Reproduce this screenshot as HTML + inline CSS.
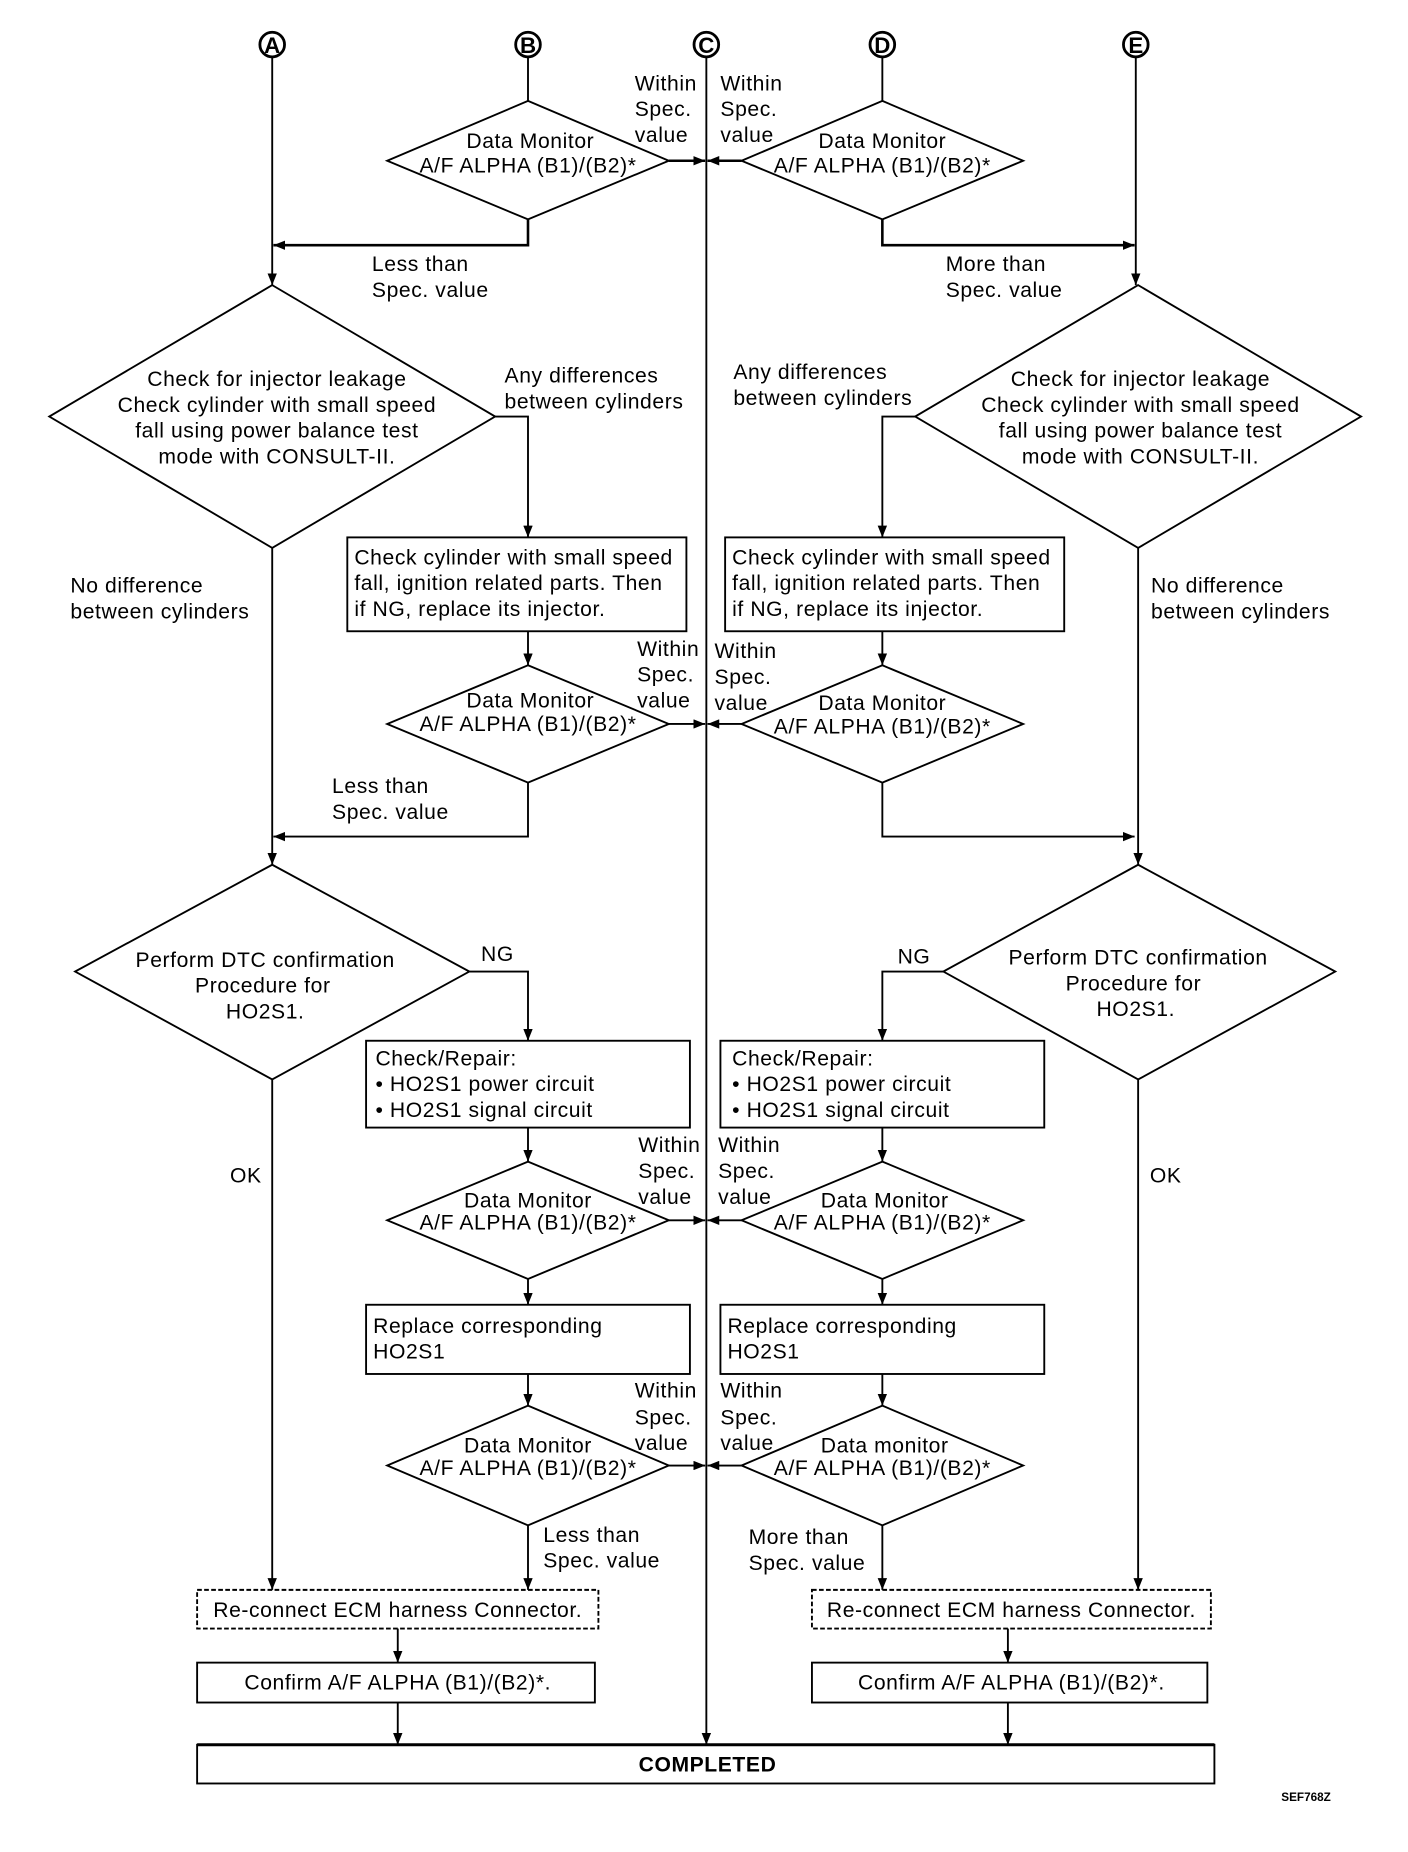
<!DOCTYPE html>
<html><head><meta charset="utf-8"><style>
html,body{margin:0;padding:0;background:#fff}
svg{display:block}
text{font-family:"Liberation Sans",Arial,sans-serif;font-size:18px;letter-spacing:0.5px;fill:#000}
.c{text-anchor:middle}
</style></head><body>
<svg width="1408" height="1852" viewBox="0 0 1200 1578.4" preserveAspectRatio="none" xmlns="http://www.w3.org/2000/svg">
<defs><marker id="a" markerWidth="10" markerHeight="8" refX="10" refY="4" orient="auto" markerUnits="userSpaceOnUse"><path d="M0,0 L10,4 L0,8 z" fill="#000"/></marker></defs>
<g fill="none" stroke="#000" stroke-width="1.6">
<g stroke-width="2.4"><circle cx="232" cy="38" r="10.5"/><circle cx="450" cy="38" r="10.5"/><circle cx="602" cy="38" r="10.5"/><circle cx="752" cy="38" r="10.5"/><circle cx="968" cy="38" r="10.5"/></g>
<path d="M232 48 V243" marker-end="url(#a)"/>
<path d="M968 48 V243" marker-end="url(#a)"/>
<path d="M602 48 V1487" marker-end="url(#a)"/>
<path d="M450 48 V86"/><path d="M752 48 V86"/>
<path d="M450 86 L570 137 L450 187 L330 137 Z"/>
<path d="M752 86 L872 137 L752 187 L632 137 Z"/>
<path d="M570 137 H601" marker-end="url(#a)" stroke-width="2.2"/>
<path d="M632 137 H603" marker-end="url(#a)" stroke-width="2.2"/>
<path d="M450 187 V209 H233" marker-end="url(#a)" stroke-width="2.2"/>
<path d="M752 187 V209 H967" marker-end="url(#a)" stroke-width="2.2"/>
<path d="M232 243 L422 355 L232 467 L42 355 Z"/>
<path d="M970 243 L1160 355 L970 467 L780 355 Z"/>
<path d="M422 355 H450 V458" marker-end="url(#a)"/>
<path d="M780 355 H752 V458" marker-end="url(#a)"/>
<rect x="296" y="458" width="289" height="80"/>
<rect x="618" y="458" width="289" height="80"/>
<path d="M450 538 V567" marker-end="url(#a)"/>
<path d="M752 538 V567" marker-end="url(#a)"/>
<path d="M450 567 L570 617 L450 667 L330 617 Z"/>
<path d="M752 567 L872 617 L752 667 L632 617 Z"/>
<path d="M570 617 H601" marker-end="url(#a)"/>
<path d="M632 617 H603" marker-end="url(#a)"/>
<path d="M450 667 V713 H233" marker-end="url(#a)"/>
<path d="M752 667 V713 H967" marker-end="url(#a)"/>
<path d="M232 467 V737" marker-end="url(#a)"/>
<path d="M970 467 V737" marker-end="url(#a)"/>
<path d="M232 737 L400 828 L232 920 L64 828 Z"/>
<path d="M970 737 L1138 828 L970 920 L804 828 Z"/>
<path d="M400 828 H450 V887" marker-end="url(#a)"/>
<path d="M804 828 H752 V887" marker-end="url(#a)"/>
<rect x="312" y="887" width="276" height="74"/>
<rect x="614" y="887" width="276" height="74"/>
<path d="M450 961 V990" marker-end="url(#a)"/>
<path d="M752 961 V990" marker-end="url(#a)"/>
<path d="M450 990 L570 1040 L450 1090 L330 1040 Z"/>
<path d="M752 990 L872 1040 L752 1090 L632 1040 Z"/>
<path d="M570 1040 H601" marker-end="url(#a)"/>
<path d="M632 1040 H603" marker-end="url(#a)"/>
<path d="M450 1090 V1112" marker-end="url(#a)"/>
<path d="M752 1090 V1112" marker-end="url(#a)"/>
<rect x="312" y="1112" width="276" height="59"/>
<rect x="614" y="1112" width="276" height="59"/>
<path d="M450 1171 V1198" marker-end="url(#a)"/>
<path d="M752 1171 V1198" marker-end="url(#a)"/>
<path d="M450 1198 L570 1249 L450 1300 L330 1249 Z"/>
<path d="M752 1198 L872 1249 L752 1300 L632 1249 Z"/>
<path d="M570 1249 H601" marker-end="url(#a)"/>
<path d="M632 1249 H603" marker-end="url(#a)"/>
<path d="M450 1300 V1355" marker-end="url(#a)"/>
<path d="M752 1300 V1355" marker-end="url(#a)"/>
<path d="M232 920 V1355" marker-end="url(#a)"/>
<path d="M970 920 V1355" marker-end="url(#a)"/>
<rect x="168" y="1355" width="342" height="33" stroke-dasharray="4,2"/>
<rect x="692" y="1355" width="340" height="33" stroke-dasharray="4,2"/>
<path d="M339 1388 V1417" marker-end="url(#a)"/>
<path d="M859 1388 V1417" marker-end="url(#a)"/>
<rect x="168" y="1417" width="339" height="34"/>
<rect x="692" y="1417" width="337" height="34"/>
<path d="M339 1451 V1487" marker-end="url(#a)"/>
<path d="M859 1451 V1487" marker-end="url(#a)"/>
<rect x="168" y="1487" width="867" height="33"/>
<path d="M168 1487 H1035" stroke-width="2.6"/>
</g>
<g font-weight="bold">
<text x="232" y="45" class="c" font-weight="bold" style="font-size:19px;letter-spacing:0">A</text><text x="450" y="45" class="c" font-weight="bold" style="font-size:19px;letter-spacing:0">B</text><text x="602" y="45" class="c" font-weight="bold" style="font-size:19px;letter-spacing:0">C</text><text x="752" y="45" class="c" font-weight="bold" style="font-size:19px;letter-spacing:0">D</text><text x="968" y="45" class="c" font-weight="bold" style="font-size:19px;letter-spacing:0">E</text>
</g>
<text x="541" y="77">Within</text><text x="541" y="99">Spec.</text><text x="541" y="121">value</text>
<text x="614" y="77">Within</text><text x="614" y="99">Spec.</text><text x="614" y="121">value</text>
<text class="c" x="452" y="126">Data Monitor</text><text class="c" x="450" y="147">A/F ALPHA (B1)/(B2)*</text>
<text class="c" x="752" y="126">Data Monitor</text><text class="c" x="752" y="147">A/F ALPHA (B1)/(B2)*</text>
<text x="317" y="231">Less than</text><text x="317" y="253">Spec. value</text>
<text x="806" y="231">More than</text><text x="806" y="253">Spec. value</text>
<text class="c" x="236" y="329">Check for injector leakage</text>
<text class="c" x="236" y="351">Check cylinder with small speed</text>
<text class="c" x="236" y="373">fall using power balance test</text>
<text class="c" x="236" y="395">mode with CONSULT-II.</text>
<text class="c" x="972" y="329">Check for injector leakage</text>
<text class="c" x="972" y="351">Check cylinder with small speed</text>
<text class="c" x="972" y="373">fall using power balance test</text>
<text class="c" x="972" y="395">mode with CONSULT-II.</text>
<text x="430" y="326">Any differences</text><text x="430" y="348">between cylinders</text>
<text x="625" y="323">Any differences</text><text x="625" y="345">between cylinders</text>
<text x="302" y="481">Check cylinder with small speed</text><text x="302" y="503">fall, ignition related parts. Then</text><text x="302" y="525">if NG, replace its injector.</text>
<text x="624" y="481">Check cylinder with small speed</text><text x="624" y="503">fall, ignition related parts. Then</text><text x="624" y="525">if NG, replace its injector.</text>
<text x="60" y="505">No difference</text><text x="60" y="527">between cylinders</text>
<text x="981" y="505">No difference</text><text x="981" y="527">between cylinders</text>
<text x="543" y="559">Within</text><text x="543" y="581">Spec.</text><text x="543" y="603">value</text>
<text x="609" y="561">Within</text><text x="609" y="583">Spec.</text><text x="609" y="605">value</text>
<text class="c" x="452" y="603">Data Monitor</text><text class="c" x="450" y="623">A/F ALPHA (B1)/(B2)*</text>
<text class="c" x="752" y="605">Data Monitor</text><text class="c" x="752" y="625">A/F ALPHA (B1)/(B2)*</text>
<text x="283" y="676">Less than</text><text x="283" y="698">Spec. value</text>
<text class="c" x="226" y="824">Perform DTC confirmation</text><text class="c" x="224" y="846">Procedure for</text><text class="c" x="226" y="868">HO2S1.</text>
<text class="c" x="970" y="822">Perform DTC confirmation</text><text class="c" x="966" y="844">Procedure for</text><text class="c" x="968" y="866">HO2S1.</text>
<text x="410" y="819">NG</text><text x="765" y="821">NG</text>
<text x="320" y="908">Check/Repair:</text><text x="320" y="930">• HO2S1 power circuit</text><text x="320" y="952">• HO2S1 signal circuit</text>
<text x="624" y="908">Check/Repair:</text><text x="624" y="930">• HO2S1 power circuit</text><text x="624" y="952">• HO2S1 signal circuit</text>
<text x="544" y="982">Within</text><text x="544" y="1004">Spec.</text><text x="544" y="1026">value</text>
<text x="612" y="982">Within</text><text x="612" y="1004">Spec.</text><text x="612" y="1026">value</text>
<text class="c" x="450" y="1029">Data Monitor</text><text class="c" x="450" y="1048">A/F ALPHA (B1)/(B2)*</text>
<text class="c" x="754" y="1029">Data Monitor</text><text class="c" x="752" y="1048">A/F ALPHA (B1)/(B2)*</text>
<text x="196" y="1008">OK</text><text x="980" y="1008">OK</text>
<text x="318" y="1136">Replace corresponding</text><text x="318" y="1158">HO2S1</text>
<text x="620" y="1136">Replace corresponding</text><text x="620" y="1158">HO2S1</text>
<text x="541" y="1191">Within</text><text x="541" y="1214">Spec.</text><text x="541" y="1236">value</text>
<text x="614" y="1191">Within</text><text x="614" y="1214">Spec.</text><text x="614" y="1236">value</text>
<text class="c" x="450" y="1238">Data Monitor</text><text class="c" x="450" y="1257">A/F ALPHA (B1)/(B2)*</text>
<text class="c" x="754" y="1238">Data monitor</text><text class="c" x="752" y="1257">A/F ALPHA (B1)/(B2)*</text>
<text x="463" y="1314">Less than</text><text x="463" y="1336">Spec. value</text>
<text x="638" y="1316">More than</text><text x="638" y="1338">Spec. value</text>
<text class="c" x="339" y="1378">Re-connect ECM harness Connector.</text>
<text class="c" x="862" y="1378">Re-connect ECM harness Connector.</text>
<text class="c" x="339" y="1440">Confirm A/F ALPHA (B1)/(B2)*.</text>
<text class="c" x="862" y="1440">Confirm A/F ALPHA (B1)/(B2)*.</text>
<text class="c" x="603" y="1510" font-weight="bold">COMPLETED</text>
<text x="1092" y="1535" font-weight="bold" style="font-size:10px;letter-spacing:0">SEF768Z</text>
</svg>
</body></html>
